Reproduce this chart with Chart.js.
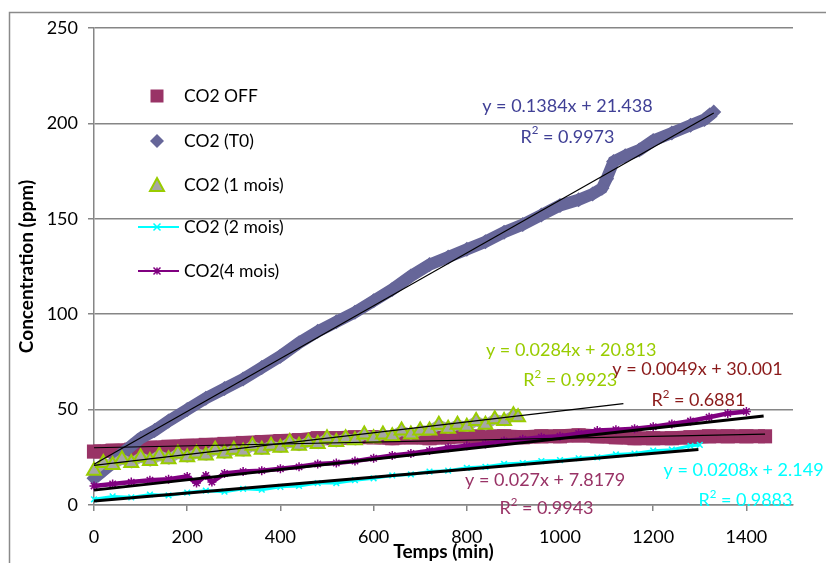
<!DOCTYPE html>
<html>
<head>
<meta charset="utf-8">
<script src="https://cdn.jsdelivr.net/npm/chart.js@4.4.0/dist/chart.umd.min.js"></script>
<style>
  html, body { margin: 0; padding: 0; background: #fff; }
  canvas { display: block; }
</style>
</head>
<body>
<canvas id="chart" width="826" height="563"></canvas>
<script>
// --- data (time in min, concentration in ppm) ---
const offTime = [0, 40, 80, 120, 160, 200, 240, 280, 320, 360, 400, 440, 480, 520, 560, 600, 640, 680, 720,
  760, 800, 840, 880, 920, 960, 1000, 1040, 1080, 1120, 1160, 1200, 1240, 1280, 1320, 1360, 1400, 1440];
const offConc = [28, 28.5, 29, 30, 30.5, 31, 31.5, 32, 32.5, 33, 33.5, 34, 35, 35, 35.5, 35.5, 35, 35.5, 35,
  35.5, 36, 36, 36, 35.5, 36, 36, 36.5, 36, 35.5, 35, 35, 35, 35.5, 36, 36, 36, 36];

const t0Time = [0, 20, 40, 60, 80, 100, 130, 160, 200, 240, 280, 320, 360, 400, 440, 480, 520, 560, 600, 640,
  680, 720, 760, 800, 840, 880, 920, 960, 1000, 1040, 1070, 1090, 1100, 1115, 1140, 1170, 1200, 1240, 1280, 1310, 1330];
const t0Conc = [14, 18, 22, 27, 31, 35, 39, 44, 50, 56, 61, 66, 72, 78, 85, 91, 96, 101, 107, 113,
  120, 126, 130, 134, 138, 143, 147, 152, 157, 160, 163, 166, 171, 180, 183, 186, 191, 195, 199, 202, 206];

const m1Time = [0, 20, 40, 60, 80, 100, 120, 140, 160, 180, 200, 220, 240, 260, 280, 300, 320, 340, 360, 380,
  400, 420, 440, 460, 480, 500, 520, 540, 560, 580, 600, 620, 640, 660, 680, 700, 720, 740, 760, 780,
  800, 820, 840, 860, 880, 900, 910];
const m1Conc = [18, 22, 21, 24, 22, 25, 23, 26, 24, 27, 25, 27, 26, 29, 27, 29, 28, 31, 29, 31,
  30, 33, 31, 33, 32, 35, 33, 35, 34, 37, 35, 37, 36, 39, 37, 39, 39, 42, 40, 42,
  41, 44, 42, 45, 44, 47, 46];

const m2Time = [0, 40, 80, 120, 160, 200, 240, 280, 320, 360, 400, 440, 480, 520, 560, 600, 640, 680, 720,
  760, 800, 840, 880, 920, 960, 1000, 1040, 1080, 1120, 1160, 1200, 1240, 1280, 1300];
const m2Conc = [3, 4.5, 4, 5.5, 5, 6.5, 7.5, 7, 8.5, 8, 9.5, 10, 11.5, 11.5, 13, 14, 15.5, 16, 17.5,
  18, 19.5, 20, 21.5, 22, 23, 23.5, 24.5, 25, 26.5, 27, 28.5, 29, 31, 31.5];

const m4Time = [0, 40, 80, 120, 160, 200, 220, 240, 253, 280, 320, 360, 400, 440, 480, 520, 560, 600, 640,
  680, 720, 760, 800, 840, 880, 920, 960, 1000, 1040, 1080, 1120, 1160, 1200, 1240, 1280, 1320, 1360, 1400];
const m4Conc = [10, 11, 12, 13, 13.5, 15, 11.5, 15.5, 12, 16.5, 17.5, 18, 19, 20, 21.5, 22, 23, 24.5, 26,
  27, 28.5, 30, 31, 32, 33.5, 34.5, 35.5, 36, 37.5, 39, 39.5, 40, 41, 42.5, 44, 46, 48, 49];

// trend line end points
const trendOffX = [0, 1440], trendOffY = [30.0, 37.1];
const trendT0X = [0, 1330], trendT0Y = [21.4, 205.5];
const trendM1X = [0, 1136], trendM1Y = [20.8, 53.1];
const trendM2X = [0, 1297], trendM2Y = [2.1, 29.1];
const trendM4X = [0, 1437], trendM4Y = [7.8, 46.6];

const seriesNames = ['CO2 OFF', 'CO2 (T0)', 'CO2 (1 mois)', 'CO2 (2 mois)', 'CO2(4 mois)'];

const xTicks = [0, 200, 400, 600, 800, 1000, 1200, 1400];

// equation labels (data coords)
const equations = [
  { eq: 'y = 0.1384x + 21.438', r2: '0.9973', color: '#404096', x: 1016, y: 209, rx: 1016, ry: 193 },
  { eq: 'y = 0.0284x + 20.813', r2: '0.9923', color: '#99CC00', x: 1024, y: 81, rx: 1022, ry: 65.5 },
  { eq: 'y = 0.0049x + 30.001', r2: '0.6881', color: '#8B1A1A', x: 1295, y: 71.3, rx: 1297, ry: 55 },
  { eq: 'y = 0.027x + 7.8179', r2: '0.9943', color: '#993366', x: 968, y: 13.1, rx: 971, ry: -1.6 },
  { eq: 'y = 0.0208x + 2.149', r2: '0.9883', color: '#00FFFF', x: 1394, y: 18.3, rx: 1398, ry: 2.6 }
];

const pts = (xs, ys) => xs.map((x, i) => ({ x: x, y: ys[i] }));

const FONT = 'Lato, "Open Sans", sans-serif';
Chart.defaults.font.family = FONT;
Chart.defaults.color = '#000';

function trend(xs, ys, w) {
  return {
    data: pts(xs, ys), showLine: true, borderColor: '#000', borderWidth: w,
    pointRadius: 0, order: 0, clip: false
  };
}

function marker(ctx, kind, x, y, r) {
  ctx.beginPath();
  if (kind === 'rect') {
    ctx.rect(x - r, y - r, 2 * r, 2 * r);
    ctx.fill();
  } else if (kind === 'diamond') {
    ctx.moveTo(x, y - r); ctx.lineTo(x + r, y); ctx.lineTo(x, y + r); ctx.lineTo(x - r, y);
    ctx.closePath(); ctx.fill();
  } else if (kind === 'triangle') {
    ctx.moveTo(x, y - r); ctx.lineTo(x + r, y + r * 0.85); ctx.lineTo(x - r, y + r * 0.85);
    ctx.closePath(); ctx.fill(); ctx.stroke();
  } else if (kind === 'cross') {
    ctx.moveTo(x - r, y - r); ctx.lineTo(x + r, y + r);
    ctx.moveTo(x + r, y - r); ctx.lineTo(x - r, y + r);
    ctx.stroke();
  } else if (kind === 'star') {
    ctx.moveTo(x - r, y - r); ctx.lineTo(x + r, y + r);
    ctx.moveTo(x + r, y - r); ctx.lineTo(x - r, y + r);
    ctx.moveTo(x, y - r); ctx.lineTo(x, y + r);
    ctx.stroke();
  }
}

const framePlugin = {
  id: 'frame',
  beforeDraw(chart) {
    const ctx = chart.ctx;
    ctx.save();
    ctx.fillStyle = '#fff';
    ctx.fillRect(0, 0, chart.width, chart.height);
    ctx.strokeStyle = '#8a8a8a';
    ctx.lineWidth = 1.5;
    ctx.strokeRect(9.5, 12.5, 1000, 1000);
    ctx.restore();
  }
};

const notesPlugin = {
  id: 'notes',
  afterDraw(chart) {
    const ctx = chart.ctx;
    const xs = chart.scales.x, ys = chart.scales.y;
    const a = chart.chartArea;
    ctx.save();

    // legend
    const rows = [68, 113, 157, 199, 243];
    const mx = a.left + 63, tx = a.left + 90;
    const legendMarks = [
      { kind: 'rect', fill: '#993366', r: 6.5 },
      { kind: 'diamond', fill: '#666699', r: 7 },
      { kind: 'triangle', fill: '#A6A6A6', stroke: '#99CC00', r: 7 },
      { kind: 'cross', stroke: '#00FFFF', line: '#00FFFF', r: 3.5 },
      { kind: 'star', stroke: '#800080', line: '#800080', r: 3.5 }
    ];
    ctx.font = '17.5px ' + FONT;
    ctx.textAlign = 'left';
    ctx.textBaseline = 'middle';
    seriesNames.forEach((name, i) => {
      const y = a.top + rows[i];
      const m = legendMarks[i];
      if (m.line) {
        ctx.strokeStyle = m.line; ctx.lineWidth = 2;
        ctx.beginPath(); ctx.moveTo(mx - 19, y); ctx.lineTo(mx + 22, y); ctx.stroke();
      }
      ctx.fillStyle = m.fill || '#000';
      ctx.strokeStyle = m.stroke || m.fill;
      ctx.lineWidth = m.kind === 'triangle' ? 2 : 1.5;
      marker(ctx, m.kind, mx, y, m.r);
      ctx.fillStyle = '#000';
      ctx.fillText(name, tx, y);
    });

    // trend equations
    const big = '18px ' + FONT;
    const small = '11.5px ' + FONT;
    ctx.textBaseline = 'middle';
    equations.forEach(e => {
      ctx.fillStyle = e.color;
      ctx.font = big;
      ctx.textAlign = 'center';
      ctx.fillText(e.eq, xs.getPixelForValue(e.x), ys.getPixelForValue(e.y));
      const cx = xs.getPixelForValue(e.rx), cy = ys.getPixelForValue(e.ry);
      const rest = ' = ' + e.r2;
      const wR = ctx.measureText('R').width, wRest = ctx.measureText(rest).width;
      ctx.font = small;
      const w2 = ctx.measureText('2').width;
      const x0 = cx - (wR + w2 + wRest) / 2;
      ctx.textAlign = 'left';
      ctx.font = big;
      ctx.fillText('R', x0, cy);
      ctx.font = small;
      ctx.fillText('2', x0 + wR, cy - 6);
      ctx.font = big;
      ctx.fillText(rest, x0 + wR + w2, cy);
    });
    ctx.restore();
  }
};

const ctx = document.getElementById('chart').getContext('2d');

const chart = new Chart(ctx, {
  type: 'scatter',
  data: {
    datasets: [
      trend(trendOffX, trendOffY, 1.2),
      trend(trendT0X, trendT0Y, 1.2),
      trend(trendM1X, trendM1Y, 1.2),
      trend(trendM2X, trendM2Y, 3),
      trend(trendM4X, trendM4Y, 3),
      {
        label: seriesNames[0], data: pts(offTime, offConc), order: 5, clip: false,
        showLine: true, borderColor: '#993366', borderWidth: 14,
        pointStyle: 'rect', pointRadius: 10, backgroundColor: '#993366', pointBorderWidth: 0
      },
      {
        label: seriesNames[1], data: pts(t0Time, t0Conc), order: 4, clip: false,
        showLine: true, borderColor: '#666699', borderWidth: 12,
        pointStyle: 'rectRot', pointRadius: 7.5, backgroundColor: '#666699', pointBorderWidth: 0
      },
      {
        label: seriesNames[2], data: pts(m1Time, m1Conc), order: 3, clip: false,
        showLine: true, borderColor: '#A6A6A6', borderWidth: 10,
        pointStyle: 'triangle', pointRadius: 8, backgroundColor: '#A6A6A6',
        pointBorderColor: '#99CC00', pointBorderWidth: 2
      },
      {
        label: seriesNames[3], data: pts(m2Time, m2Conc), order: 2, clip: false,
        showLine: true, borderColor: '#00FFFF', borderWidth: 3,
        pointStyle: 'crossRot', pointRadius: 4, pointBorderColor: '#00FFFF', pointBorderWidth: 1.5
      },
      {
        label: seriesNames[4], data: pts(m4Time, m4Conc), order: 1, clip: false,
        showLine: true, borderColor: '#800080', borderWidth: 4.5,
        pointStyle: 'star', pointRadius: 4.5, pointBorderColor: '#800080', pointBorderWidth: 1.5
      }
    ]
  },
  options: {
    responsive: false,
    animation: false,
    devicePixelRatio: 1,
    layout: { padding: { top: 28, right: 33, left: 0, bottom: 0 } },
    plugins: {
      legend: { display: false },
      tooltip: { enabled: false }
    },
    scales: {
      x: {
        type: 'linear', min: 0, max: 1500,
        afterFit: s => { s.height = 58; },
        afterBuildTicks: s => { s.ticks = xTicks.map(v => ({ value: v })); },
        ticks: { font: { size: 18 }, color: '#000', padding: 15, maxRotation: 0, callback: v => String(v) },
        grid: { drawOnChartArea: false, drawTicks: true, tickLength: 6, color: '#868686', lineWidth: 1.5 },
        border: { color: '#868686', width: 1.5 },
        title: {
          display: true, text: 'Temps (min)', color: '#000',
          font: { size: 19, weight: 'bold' }, padding: { top: 0, bottom: 0 }
        }
      },
      y: {
        type: 'linear', min: 0, max: 250,
        afterFit: s => { s.width = 94; },
        ticks: { stepSize: 50, font: { size: 18 }, color: '#000', padding: 10, callback: v => String(v) },
        grid: { color: '#868686', tickLength: 6, lineWidth: 1.5 },
        border: { color: '#868686', width: 1.5 },
        title: {
          display: true, text: 'Concentration (ppm)', color: '#000',
          font: { size: 19, weight: 'bold' }, padding: { top: 15.5, bottom: 0 }
        }
      }
    }
  },
  plugins: [framePlugin, notesPlugin]
});
</script>
</body>
</html>
